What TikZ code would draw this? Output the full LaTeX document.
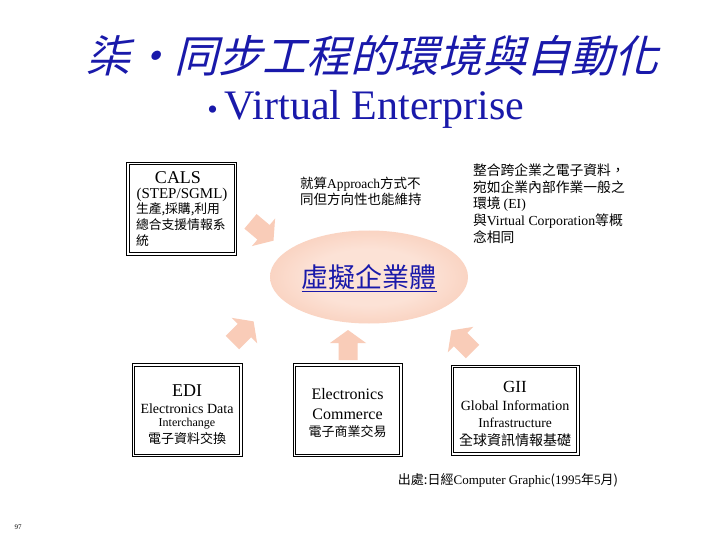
\documentclass[tikz,border=0pt]{standalone}
\usepackage{fontspec}
\setmainfont{Liberation Serif}
\newfontfamily\cjk{Noto Sans CJK TC}
\newfontfamily\cjkslanted{Noto Sans CJK TC}[FakeSlant=0.25]
\newcommand\Lt[1]{{\rmfamily #1}}
\usetikzlibrary{shapes.geometric}
\definecolor{titleblue}{RGB}{25,25,170}
\definecolor{arrowfill}{RGB}{249,204,184}
\definecolor{ellout}{RGB}{246,188,162}
\definecolor{ellin}{RGB}{252,226,214}
\pgfdeclareradialshading{ellshade}{\pgfpoint{0bp}{0bp}}{color(0bp)=(ellin); color(15bp)=(ellin); color(42bp)=(ellout); color(50bp)=(ellout)}
\tikzset{
  dbox/.style={rectangle, draw=none, inner sep=0pt, outer sep=0pt},
  boxline/.style={draw=black, line width=0.7pt},
  fatarrow/.pic={\fill[arrowfill] (-15,-9.5) -- (2,-9.5) -- (2,-18) -- (15,0) -- (2,18) -- (2,9.5) -- (-15,9.5) -- cycle;},
  txt/.style={inner sep=0pt, outer sep=0pt}
}
\newcommand\dblframe[1]{%
  \draw[boxline] (#1.south west) rectangle (#1.north east);
  \draw[boxline] ([shift={(2.4,2.4)}]#1.south west) rectangle ([shift={(-2.4,-2.4)}]#1.north east);}
\begin{document}
\begin{tikzpicture}[x=1pt,y=1pt]
\fill[white] (0,0) rectangle (720,-540);
\useasboundingbox (0,0) rectangle (720,-540);

% titles
\node[txt, text=titleblue, font=\cjkslanted\fontsize{44}{48}\selectfont] (title) at (372,-56) {柒・同步工程的環境與自動化};
\node[txt, text=titleblue, font=\fontsize{42}{46}\selectfont, anchor=base] (sub) at (366,-120) {{\fontsize{30}{30}\selectfont\textbullet}\,Virtual Enterprise};

% central ellipse
\node[ellipse, draw=none, minimum width=198, minimum height=93, shading=ellshade] (ve) at (369,-277) {};
\node[txt, text=titleblue, font=\cjk\fontsize{27}{30}\selectfont] (vet) at (369,-278) {\underline{虛擬企業體}};

% block arrows
\pic[rotate=-40] (a1) at (262,-231) {fatarrow};
\pic[rotate=45] (a2) at (243,-332) {fatarrow};
\pic[rotate=90] (a3) at (348,-345) {fatarrow};
\pic[rotate=135] (a4) at (462,-341) {fatarrow};

% CALS box
\node[dbox, minimum width=110, minimum height=93] (cals) at (181.5,-208.5) {};
\dblframe{cals}
\node[txt, font=\fontsize{18}{20}\selectfont] (calsA) at (178,-178) {CALS};
\node[txt, font=\fontsize{15}{17}\selectfont] (calsB) at (182,-195) {(STEP/SGML)};
\node[txt, anchor=west, align=left, font=\cjk\fontsize{12.8}{16}\selectfont] (calsC) at (136,-224.5) {生產,採購,利用\\總合支援情報系\\統};

% top center text
\node[txt, anchor=west, align=left, font=\cjk\fontsize{13.5}{16}\selectfont] (mid) at (300,-191) {就算\Lt{Approach}方式不\\同但方向性也能維持};

% top right text
\node[txt, anchor=west, align=left, font=\cjk\fontsize{13.8}{16.75}\selectfont] (right) at (473,-203.5) {整合跨企業之電子資料，\\宛如企業內部作業一般之\\環境 \Lt{(EI)}\\與\Lt{Virtual Corporation}等概\\念相同};

% EDI box
\node[dbox, minimum width=110, minimum height=93] (edi) at (187,-410) {};
\dblframe{edi}
\node[txt, font=\fontsize{18}{20}\selectfont] (ediA) at (187,-391) {EDI};
\node[txt, font=\fontsize{14}{16}\selectfont] (ediB) at (187,-409) {Electronics Data};
\node[txt, font=\fontsize{12}{14}\selectfont] (ediC) at (187,-424) {Interchange};
\node[txt, font=\cjk\fontsize{13}{15}\selectfont] (ediD) at (187,-438.5) {電子資料交換};

% EC box
\node[dbox, minimum width=109, minimum height=93] (ec) at (347.5,-410) {};
\dblframe{ec}
\node[txt, font=\fontsize{16}{18}\selectfont] (ecA) at (347.5,-394) {Electronics};
\node[txt, font=\fontsize{16}{18}\selectfont] (ecB) at (347.5,-414) {Commerce};
\node[txt, font=\cjk\fontsize{13}{15}\selectfont] (ecC) at (347.5,-432) {電子商業交易};

% GII box
\node[dbox, minimum width=128, minimum height=90] (gii) at (515,-410) {};
\dblframe{gii}
\node[txt, font=\fontsize{17}{19}\selectfont] (giiA) at (515,-387) {GII};
\node[txt, font=\fontsize{14}{16}\selectfont] (giiB) at (515,-406) {Global Information};
\node[txt, font=\fontsize{13.5}{15}\selectfont] (giiC) at (515,-423) {Infrastructure};
\node[txt, font=\cjk\fontsize{14}{16}\selectfont] (giiD) at (515,-440) {全球資訊情報基礎};

% source
\node[txt, font=\cjk\fontsize{13}{15}\selectfont] (src) at (508,-480) {出處:日經\Lt{Computer Graphic}(\Lt{1995}年\Lt{5}月)};

% page number
\node[txt, font=\fontsize{7}{8}\selectfont] (pg) at (18,-527) {97};
\end{tikzpicture}
\end{document}
